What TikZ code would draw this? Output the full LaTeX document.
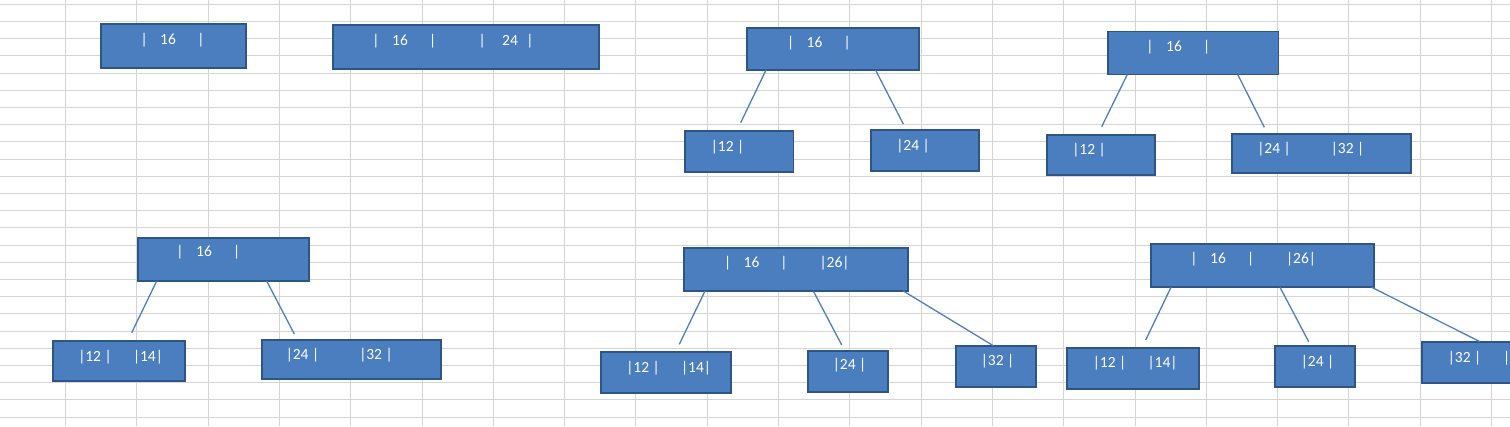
\documentclass[tikz,border=0pt]{standalone}
\usepackage{fontspec}
\setmainfont{Carlito}
\definecolor{boxfill}{HTML}{4A7EBE}
\definecolor{boxline}{HTML}{2E5585}
\definecolor{edgecol}{HTML}{4F7FBD}
\definecolor{gridcol}{HTML}{D4D4D4}
\begin{document}
\begin{tikzpicture}[x=1pt,y=-1pt,
  box/.style={draw=boxline,fill=boxfill,line width=1.8pt,anchor=north west,inner sep=0pt,outer sep=0pt},
  txt/.style={text=white,font=\fontsize{15.5}{18}\selectfont,inner sep=0pt,anchor=base},
  edge/.style={draw=edgecol,line width=1.3pt},
  gridline/.style={draw=gridcol,line width=1.4pt}]
\path[use as bounding box,fill=white] (0,0) rectangle (1510,426);
% spreadsheet grid
\foreach \k in {0,...,20} \draw[gridline] ({round(65+71.3*\k)+0.5},0) -- ({round(65+71.3*\k)+0.5},426);
\foreach \k in {0,...,24} \draw[gridline] (0,{round(3.8+17.2*\k)+0.5}) -- (1510,{round(3.8+17.2*\k)+0.5});

% ---- A
\node[box,minimum width=145,minimum height=44] (a) at (101,24) {};
\node[txt] (a1) at (144.3,44) {|};
\node[txt] (a2) at (168,44) {16};
\node[txt] (a3) at (201,44) {|};

% ---- B
\node[box,minimum width=266,minimum height=44] (b) at (333,25) {};
\node[txt] (b1) at (376,45.5) {|};
\node[txt] (b2) at (400,45.5) {16};
\node[txt] (b3) at (432.7,45.5) {|};
\node[txt] (b4) at (482.3,45.5) {|};
\node[txt] (b5) at (510,45.5) {24};
\node[txt] (b6) at (530,45.5) {|};

% ---- C
\node[box,minimum width=172,minimum height=42] (cr) at (747,28) {};
\node[txt] (cr1) at (790.7,47.5) {|};
\node[txt] (cr2) at (814.5,47.5) {16};
\node[txt] (cr3) at (847.3,47.5) {|};
\node[box,minimum width=108.5,minimum height=41] (cl) at (685,131) {};
\node[txt] (clt) at (727.5,151) {|12 |};
\node[box,minimum width=108,minimum height=41] (cg) at (871,130) {};
\node[txt] (cgt) at (913,150) {|24 |};
\coordinate (ce1) at (740.7,122.7);
\coordinate (ce2) at (903.3,124);
\draw[edge] ([xshift=19pt]cr.south west) -- (ce1);
\draw[edge] ([xshift=128.5pt]cr.south west) -- (ce2);

% ---- D
\node[box,minimum width=170.5,minimum height=43] (dr) at (1108,31.5) {};
\node[txt] (dr1) at (1150,51.5) {|};
\node[txt] (dr2) at (1174,51.5) {16};
\node[txt] (dr3) at (1206.7,51.5) {|};
\node[box,minimum width=108,minimum height=40.5] (dl) at (1047,134.7) {};
\node[txt] (dlt) at (1089,154) {|12 |};
\node[box,minimum width=179,minimum height=39.5] (dg) at (1232,133.7) {};
\node[txt] (dg1) at (1274,153.5) {|24 |};
\node[txt] (dg2) at (1347.5,153.5) {|32 |};
\coordinate (de1) at (1101.7,126.7);
\coordinate (de2) at (1264.3,127.3);
\draw[edge] ([xshift=19.3pt]dr.south west) -- (de1);
\draw[edge] ([xshift=129.7pt]dr.south west) -- (de2);

% ---- E
\node[box,minimum width=171,minimum height=43.3] (er) at (137.7,237.7) {};
\node[txt] (er1) at (180,256.5) {|};
\node[txt] (er2) at (204,256.5) {16};
\node[txt] (er3) at (236.7,256.5) {|};
\node[box,minimum width=132,minimum height=40.3] (el) at (52.7,340.7) {};
\node[txt] (el1) at (95,361.5) {|12 |};
\node[txt] (el2) at (148,361.5) {|14|};
\node[box,minimum width=179.3,minimum height=39] (eg) at (262,340) {};
\node[txt] (eg1) at (302.5,359.5) {|24 |};
\node[txt] (eg2) at (376,359.5) {|32 |};
\coordinate (ee1) at (131.7,332.7);
\coordinate (ee2) at (294.3,334);
\draw[edge] ([xshift=19pt]er.south west) -- (ee1);
\draw[edge] ([xshift=129pt]er.south west) -- (ee2);

% ---- F
\node[box,minimum width=223.4,minimum height=43.3] (fr) at (684.3,247.7) {};
\node[txt] (fr1) at (727.7,267.5) {|};
\node[txt] (fr2) at (751.5,267.5) {16};
\node[txt] (fr3) at (784,267.5) {|};
\node[txt] (fr4) at (834.5,267.5) {|26|};
\node[box,minimum width=130.6,minimum height=41.6] (fl) at (600.7,351.7) {};
\node[txt] (fl1) at (643,372) {|12 |};
\node[txt] (fl2) at (696,372) {|14|};
\node[box,minimum width=80,minimum height=41] (fm) at (808.3,350.7) {};
\node[txt] (fmt) at (849.5,369.5) {|24 |};
\node[box,minimum width=80,minimum height=41] (fg) at (955.7,345.7) {};
\node[txt] (fgt) at (997.5,365.5) {|32 |};
\coordinate (fe1) at (679.3,344.3);
\coordinate (fe2) at (841.7,345);
\draw[edge] ([xshift=20.7pt]fr.south west) -- (fe1);
\draw[edge] ([xshift=129pt]fr.south west) -- (fe2);
\draw[edge] ([xshift=219pt]fr.south west) -- ([xshift=37.6pt]fg.north west);

% ---- G
\node[box,minimum width=223.3,minimum height=43.3] (gr) at (1151,244) {};
\node[txt] (gr1) at (1194,263.5) {|};
\node[txt] (gr2) at (1218,263.5) {16};
\node[txt] (gr3) at (1250.7,263.5) {|};
\node[txt] (gr4) at (1301,263.5) {|26|};
\node[box,minimum width=131.7,minimum height=41] (gl) at (1067.3,348) {};
\node[txt] (gl1) at (1109.5,367.5) {|12 |};
\node[txt] (gl2) at (1162.5,367.5) {|14|};
\node[box,minimum width=80,minimum height=41] (gm) at (1275,345.7) {};
\node[txt] (gmt) at (1317.5,366) {|24 |};
\node[box,minimum width=100,minimum height=41.6] (gg) at (1422.3,341.7) {};
\node[txt] (gg1) at (1464.5,362) {|32 |};
\node[txt] (gg2) at (1506.7,362) {|};
\coordinate (ge1) at (1145.7,340);
\coordinate (ge2) at (1308.7,341.7);
\draw[edge] ([xshift=20pt]gr.south west) -- (ge1);
\draw[edge] ([xshift=129pt]gr.south west) -- (ge2);
\draw[edge] ([xshift=220.7pt]gr.south west) -- ([xshift=57.7pt]gg.north west);
\end{tikzpicture}
\end{document}
